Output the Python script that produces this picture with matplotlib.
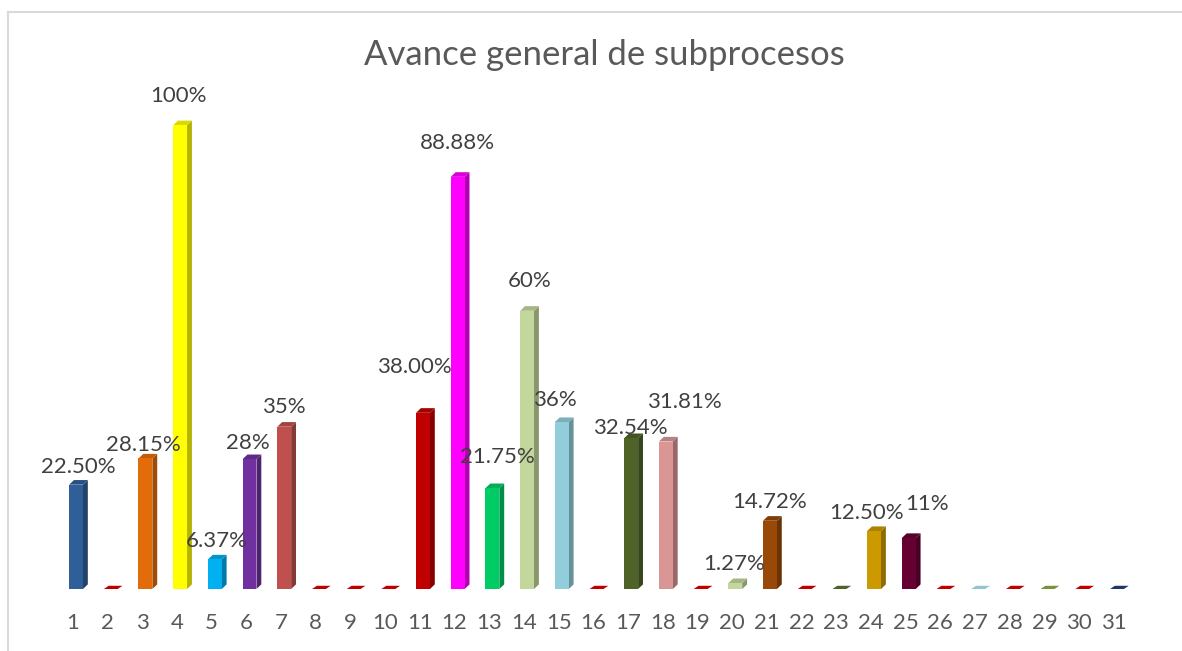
import numpy as np
import matplotlib.pyplot as plt
from matplotlib.patches import Polygon
from matplotlib.colors import to_rgb

# data
categories = [str(i) for i in range(1, 32)]
values = [0.225, 0, 0.2815, 1.00, 0.0637, 0.28, 0.35, 0, 0, 0,
          0.38, 0.8888, 0.2175, 0.60, 0.36, 0, 0.3254, 0.3181, 0, 0.0127,
          0.1472, 0, 0, 0.125, 0.11, 0, 0, 0, 0, 0, 0]
labels = ['22.50%', '', '28.15%', '100%', '6.37%', '28%', '35%', '', '', '',
          '38.00%', '88.88%', '21.75%', '60%', '36%', '', '32.54%', '31.81%', '', '1.27%',
          '14.72%', '', '', '12.50%', '11%', '', '', '', '', '', '']
colors = ['#2F5F98', '#C00000', '#E36C0A', '#FFFF00', '#00B0F0', '#7030A0', '#C0504D',
          '#C00000', '#C00000', '#C00000', '#C00000', '#FF00FF', '#00CC66', '#C3D69B',
          '#92CDDC', '#C00000', '#4F6228', '#D99694', '#C00000', '#C3D69B', '#984807',
          '#C00000', '#4F6228', '#CC9900', '#660033', '#C00000', '#93C5D1', '#C00000',
          '#77933C', '#C00000', '#1F3864']

# label placement in pixels relative to bar top (dx, gap to label centre)
label_dx = [2, 0, -2, -2, 2, -2, 0, 0, 0, 0,
            -9, 0, 5, 3, -7, 0, -1, 19, 0, -1,
            0, 0, 0, -8, 18]
label_dy = [18, 0, 13, 29, 18, 16, 20, 0, 0, 0,
            46, 34, 31, 30, 22, 0, 10, 40, 0, 19,
            19, 0, 0, 18, 34]

fig = plt.figure(figsize=(11.82, 6.51), dpi=100)
plt.rcParams['font.family'] = ['Lato', 'DejaVu Sans']
ax = fig.add_axes([0.047, 0.0952, 0.910, 0.748])

x = np.arange(1, 32)
xb = x + 0.09   # bars sit a touch right of the tick labels
w = 0.40        # front width
d = 0.14        # depth offset in x
dz = 0.010      # depth offset in y

def shade(c, f):
    r, g, b = to_rgb(c)
    return (r * f, g * f, b * f)

for xi, v, c in zip(xb, values, colors):
    if v > 0:
        ax.bar(xi, v, width=w, color=c, zorder=3)
        side = Polygon([(xi + w/2, 0), (xi + w/2 + d, dz), (xi + w/2 + d, v + dz), (xi + w/2, v)],
                       closed=True, facecolor=shade(c, 0.7), edgecolor='none', zorder=2)
        ax.add_patch(side)
        top = Polygon([(xi - w/2, v), (xi + w/2, v), (xi + w/2 + d, v + dz), (xi - w/2 + d, v + dz)],
                      closed=True, facecolor=shade(c, 0.85), edgecolor='none', zorder=2)
        ax.add_patch(top)
    else:
        slab = Polygon([(xi - w/2, 0), (xi + w/2, 0), (xi + w/2 + d, 0.007), (xi - w/2 + d, 0.007)],
                       closed=True, facecolor=c, edgecolor='none', zorder=3)
        ax.add_patch(slab)

for i, (v, lab) in enumerate(zip(values, labels)):
    if lab:
        ax.annotate(lab, (xb[i], v), xytext=(label_dx[i], label_dy[i]),
                    textcoords='offset pixels', ha='center', va='center',
                    fontsize=16, color='#404040', zorder=5)

ax.set_xlim(0.5, 31.5)
ax.set_ylim(0, 1.05)
ax.set_xticks(x)
ax.set_xticklabels(categories, fontsize=16, color='#595959')
ax.set_yticks([])
ax.tick_params(axis='x', length=0, pad=17)
for s in ax.spines.values():
    s.set_visible(False)

fig.text(0.511, 0.9002, 'Avance general de subprocesos', ha='center', va='baseline',
         fontsize=25, color='#595959')

# chart area border (left and top only visible)
fig.add_artist(plt.Line2D([0.0068, 0.0068], [0, 0.9815], color='#D9D9D9', lw=1.5,
                          transform=fig.transFigure))
fig.add_artist(plt.Line2D([0.0068, 1.0], [0.9815, 0.9815], color='#D9D9D9', lw=1.5,
                          transform=fig.transFigure))

fig.savefig('out.png', dpi=100)
